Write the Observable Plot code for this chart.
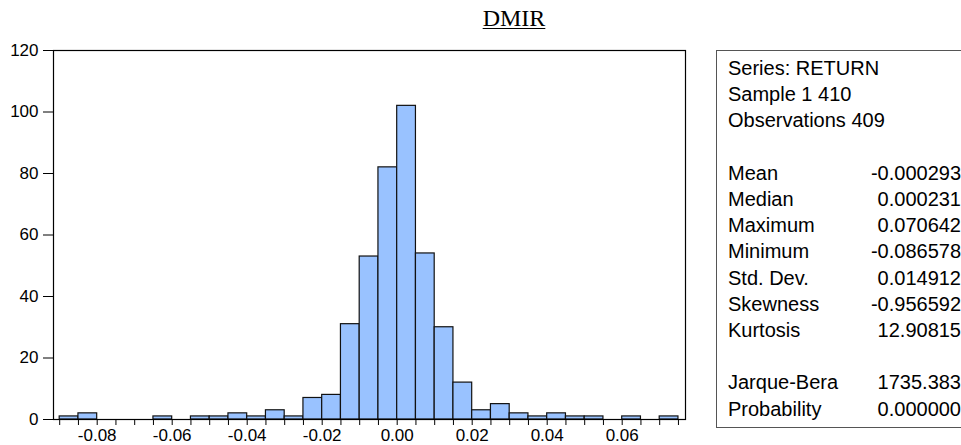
<!DOCTYPE html>
<html>
<head>
<meta charset="utf-8">
<script src="https://cdn.jsdelivr.net/npm/d3@7"></script>
<script src="https://cdn.jsdelivr.net/npm/@observablehq/plot@0.6"></script>
<style>
  body { margin: 0; background: #fff; }
  #wrap { position: relative; width: 961px; height: 445px; overflow: hidden; background: #fff;
          font-family: "Liberation Sans", Arial, sans-serif; color: #000; }
  #title { position: absolute; left: 414px; width: 200px; top: 5px; text-align: center;
           font-family: "Liberation Serif", "Times New Roman", serif; font-size: 24px;
           text-decoration: underline; text-underline-offset: 2px; text-decoration-thickness: 1px; }
  #chart { position: absolute; left: 0; top: 0; }
  #stats { position: absolute; left: 716px; top: 50px; width: 300px; height: 378px;
           border: 1px solid #555; box-sizing: border-box; }
  .row { position: absolute; left: 0; width: 961px; height: 26px; line-height: 26px; font-size: 20px; }
  .lab { position: absolute; left: 728px; }
  .val { position: absolute; right: 0px; text-align: right; }
</style>
</head>
<body>
<div id="wrap">
  <div id="title">DMIR</div>
  <div id="chart"></div>
  <div id="stats"></div>
  <div id="rows"></div>
</div>
<script>
// Histogram bins (lower edge) and counts
const binStarts = [-0.090, -0.085, -0.080, -0.075, -0.070, -0.065, -0.060, -0.055, -0.050, -0.045,
                   -0.040, -0.035, -0.030, -0.025, -0.020, -0.015, -0.010, -0.005, 0.000, 0.005,
                    0.010, 0.015, 0.020, 0.025, 0.030, 0.035, 0.040, 0.045, 0.050, 0.055,
                    0.060, 0.065, 0.070];
const counts = [1, 2, 0, 0, 0, 1, 0, 1, 1, 2,
                1, 3, 1, 7, 8, 31, 53, 82, 102, 54,
                30, 12, 3, 5, 2, 1, 2, 1, 1, 0,
                1, 0, 1];
const binWidth = 0.005;
const xTickLabels = [-0.08, -0.06, -0.04, -0.02, 0.00, 0.02, 0.04, 0.06];
const yTicks = [0, 20, 40, 60, 80, 100, 120];

// Statistics panel
const statHeader = ["Series: RETURN", "Sample 1 410", "Observations 409"];
const statNames = ["Mean", "Median", "Maximum", "Minimum", "Std. Dev.", "Skewness", "Kurtosis"];
const statValues = ["-0.000293", "0.000231", "0.070642", "-0.086578", "0.014912", "-0.956592", "12.90815"];
const testNames = ["Jarque-Bera", "Probability"];
const testValues = ["1735.383", "0.000000"];

const bins = binStarts.map((b, i) => ({x1: b, x2: b + binWidth, count: counts[i]}));
const edges = binStarts.concat([binStarts[binStarts.length - 1] + binWidth]);
const isLabeled = d => xTickLabels.some(v => Math.abs(v - d) < 1e-9);
const fmt = d => (d < -1e-12 ? "-" : "") + Math.abs(d).toFixed(2);

const chart = Plot.plot({
  width: 700,
  height: 445,
  marginLeft: 53,
  marginRight: 15,
  marginTop: 50,
  marginBottom: 26,
  style: {fontFamily: "'Liberation Sans', Arial, sans-serif", fontSize: "17px", color: "#000", background: "transparent"},
  x: {domain: [-0.09165, 0.07688], label: null},
  y: {domain: [0, 120], label: null},
  marks: [
    Plot.rect(bins, {x1: "x1", x2: "x2", y1: 0, y2: "count", fill: "#99c2ff", stroke: "#111", strokeWidth: 1.2}),
    Plot.frame({stroke: "#000", strokeWidth: 1.2}),
    Plot.axisX({ticks: edges, tickSize: 6, tickPadding: 3, label: null, tickFormat: d => isLabeled(d) ? fmt(d) : "", stroke: "#000"}),
    Plot.axisY({ticks: yTicks, tickSize: 10, tickPadding: 5, label: null, tickFormat: d => String(d), stroke: "#000"})
  ]
});
document.getElementById("chart").appendChild(chart);

// Stats rows
const rows = document.getElementById("rows");
const lines = [];
statHeader.forEach(t => lines.push([t, ""]));
lines.push(["", ""]);
statNames.forEach((t, i) => lines.push([t, statValues[i]]));
lines.push(["", ""]);
testNames.forEach((t, i) => lines.push([t, testValues[i]]));
lines.forEach((l, i) => {
  const r = document.createElement("div");
  r.className = "row";
  r.style.top = (55 + i * 26.2) + "px";
  const a = document.createElement("span"); a.className = "lab"; a.textContent = l[0];
  const b = document.createElement("span"); b.className = "val"; b.textContent = l[1];
  r.appendChild(a); r.appendChild(b);
  rows.appendChild(r);
});
</script>
</body>
</html>
